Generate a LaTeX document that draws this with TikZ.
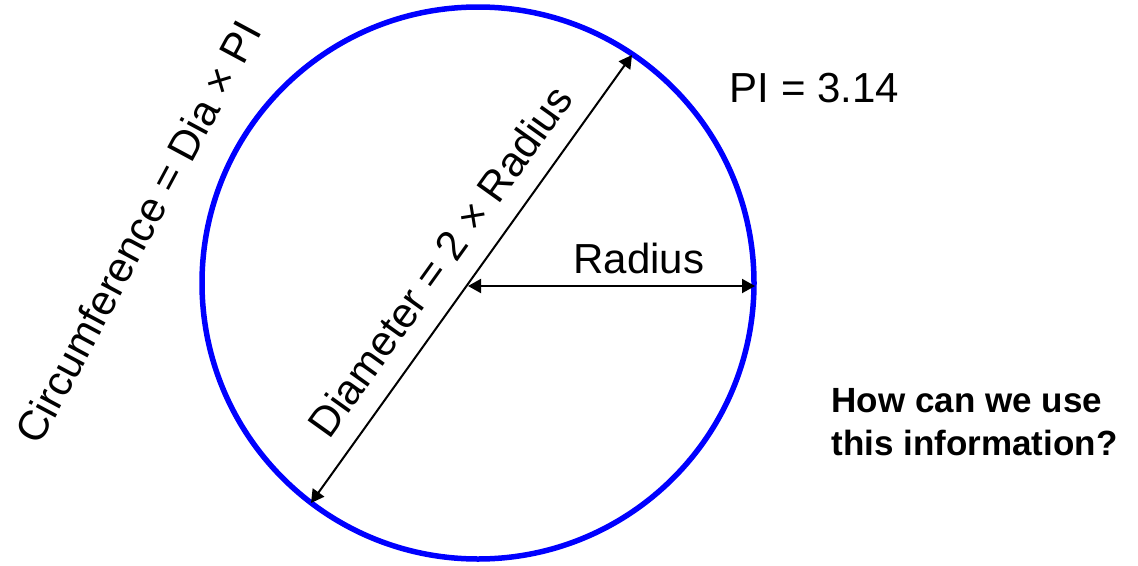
\documentclass[tikz,border=0pt]{standalone}
\usepackage{fontspec}
\setmainfont{Liberation Sans}
\usetikzlibrary{arrows.meta}
\definecolor{circblue}{RGB}{0,0,255}
\begin{document}
\begin{tikzpicture}[x=1pt,y=-1pt,
  dimarrow/.style={line width=2pt, {Triangle[length=13pt,width=14pt]}-{Triangle[length=13pt,width=14pt]}},
  biglabel/.style={font=\fontsize{42}{50}\selectfont, inner sep=0pt},
  question/.style={font=\fontsize{35}{43}\selectfont\bfseries, inner sep=0pt, align=left, anchor=base west}]
\useasboundingbox (0,0) rectangle (1138,565);
\node[draw=circblue, line width=5.5pt, circle, minimum size=552pt, inner sep=0pt] (circ) at (478,283) {};
\coordinate (dA) at (311,503);
\coordinate (dB) at (632,55);
\coordinate (rA) at (468,286);
\coordinate (rB) at (755,286);
\draw[dimarrow] (dA) -- (dB);
\draw[dimarrow] (rA) -- (rB);
\node[biglabel] (radlbl) at (639,258) {Radius};
\node[biglabel, rotate=54.4] (dialbl) at (440,261) {Diameter = 2 × Radius};
\node[biglabel, rotate=61.8] (circlbl) at (138,232) {Circumference = Dia × PI};
\node[biglabel] (pilbl) at (814.5,88) {PI = 3.14};
\node[question] (q1) at (831.5,412) {How can we use};
\node[question] (q2) at (831.5,455) {this information?};
\end{tikzpicture}
\end{document}
